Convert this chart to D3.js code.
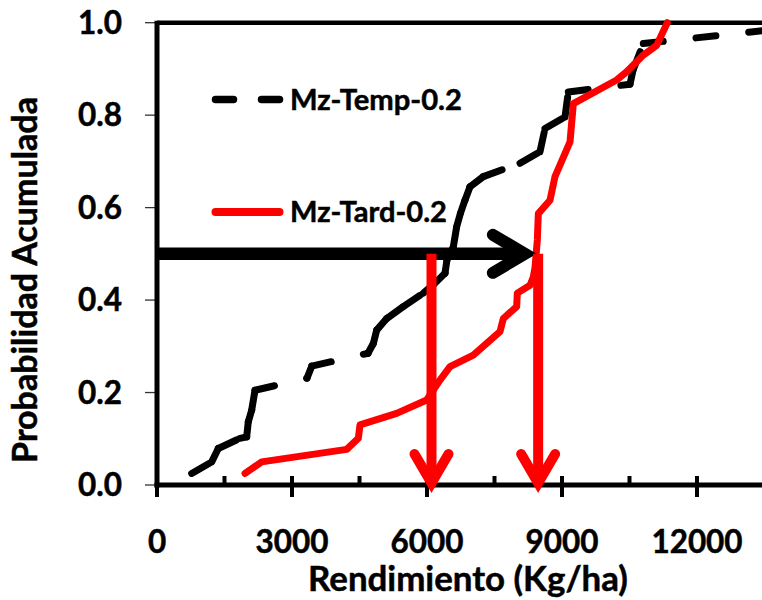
<!DOCTYPE html>
<html>
<head>
<meta charset="utf-8">
<script src="https://cdn.jsdelivr.net/npm/d3@7"></script>
<style>
  html, body { margin: 0; padding: 0; background: #fff; }
  svg { display: block; font-family: Lato, "Open Sans", sans-serif; font-weight: bold; }
  svg text { fill: #000; stroke: #000; stroke-width: 0.5px; paint-order: stroke; }
</style>
</head>
<body>
<svg id="chart" width="762" height="600"></svg>
<script>
// ---- data ----
const xTicks = [0, 3000, 6000, 9000, 12000];
const xMinorTicks = [1500, 4500, 7500, 10500, 13500];
const yTicks = [0, 0.2, 0.4, 0.6, 0.8, 1.0];

const tempName = "Mz-Temp-0.2";
const tempX = [771, 1216, 1362, 1844, 1993, 2029, 2104, 2178, 3333, 3438, 4689, 4807, 4882, 5104, 5473, 5918, 6156, 6400, 6444, 6585, 6660, 6744, 6844, 6956, 7251, 8067, 8511, 8622, 9067, 9140, 10511, 10578, 10807, 13500];
const tempY = [0.025, 0.050, 0.079, 0.101, 0.104, 0.137, 0.162, 0.205, 0.231, 0.257, 0.285, 0.306, 0.335, 0.360, 0.386, 0.415, 0.435, 0.458, 0.487, 0.515, 0.559, 0.588, 0.616, 0.645, 0.667, 0.696, 0.721, 0.771, 0.796, 0.850, 0.867, 0.897, 0.955, 0.983];

const tardName = "Mz-Tard-0.2";
const tardX = [1956, 2326, 4215, 4474, 4511, 5326, 5993, 6289, 6511, 7029, 7622, 7696, 7993, 8007, 8289, 8363, 8400, 8452, 8474, 8733, 8844, 9178, 9252, 10215, 10437, 10807, 11104, 11340];
const tardY = [0.025, 0.050, 0.077, 0.101, 0.130, 0.155, 0.184, 0.227, 0.256, 0.281, 0.332, 0.360, 0.386, 0.415, 0.432, 0.450, 0.470, 0.530, 0.587, 0.616, 0.667, 0.742, 0.825, 0.876, 0.894, 0.930, 0.951, 1.000];

// annotation arrows: horizontal at probability 0.5, vertical drops to 0
const arrowProb = 0.5;
const arrowHX = [0, 8437];
const arrowVX = [6100, 8470];

const xTitle = "Rendimiento (Kg/ha)";
const yTitle = "Probabilidad Acumulada";

// ---- layout ----
const svg = d3.select("#chart");
const x = d3.scaleLinear().domain([0, 13500]).range([157, 764.5]);
const y = d3.scaleLinear().domain([0, 1]).range([485, 22.7]);

function fit(sel, target) {
  const w = sel.node().getComputedTextLength();
  const fs = parseFloat(sel.attr("font-size"));
  if (w > 0) sel.attr("font-size", fs * target / w);
  return sel;
}

// y ticks (outside, thin)
svg.append("g").selectAll("line").data(yTicks).join("line")
  .attr("x1", 145).attr("x2", 157)
  .attr("y1", d => y(d)).attr("y2", d => y(d))
  .attr("stroke", "#333").attr("stroke-width", 1.3);

// x ticks
svg.append("g").selectAll("line").data(xTicks).join("line")
  .attr("x1", d => x(d)).attr("x2", d => x(d))
  .attr("y1", 476).attr("y2", 497)
  .attr("stroke", "#000").attr("stroke-width", 4);
svg.append("g").selectAll("line").data(xMinorTicks).join("line")
  .attr("x1", d => x(d)).attr("x2", d => x(d))
  .attr("y1", 476).attr("y2", 485)
  .attr("stroke", "#000").attr("stroke-width", 4);

// plot frame (top border) and axes
svg.append("line").attr("x1", x(0)).attr("x2", x(13500)).attr("y1", y(1)).attr("y2", y(1))
  .attr("stroke", "#000").attr("stroke-width", 4.5);
svg.append("line").attr("x1", x(0)).attr("x2", x(0)).attr("y1", y(1) - 2).attr("y2", y(0) + 2.5)
  .attr("stroke", "#000").attr("stroke-width", 5);
svg.append("line").attr("x1", x(0) - 2.5).attr("x2", x(13500)).attr("y1", y(0)).attr("y2", y(0))
  .attr("stroke", "#000").attr("stroke-width", 5);

// tick labels
const yl = svg.append("g").selectAll("text").data(yTicks).join("text")
  .attr("x", 122).attr("y", d => y(d)).attr("dy", "0.36em")
  .attr("text-anchor", "end").attr("font-size", 31)
  .text(d => d3.format(".1f")(d));
const xl = svg.append("g").selectAll("text").data(xTicks).join("text")
  .attr("x", d => x(d)).attr("y", 553)
  .attr("text-anchor", "middle").attr("font-size", 31)
  .text(d => d);
// size ticks to match reference width of "3000"
{
  const probe = xl.filter(d => d === 3000);
  const w = probe.node().getComputedTextLength();
  const fs = 31 * 73 / w;
  xl.attr("font-size", fs); yl.attr("font-size", fs);
}

// axis titles
fit(svg.append("text").attr("x", 468).attr("y", 591).attr("text-anchor", "middle")
  .attr("font-size", 28).text(xTitle), 320);
fit(svg.append("text").attr("transform", "translate(36.5,280) rotate(-90)")
  .attr("text-anchor", "middle").attr("font-size", 28).text(yTitle), 366);

// series
const temp = tempX.map((v, i) => ({ x: v, y: tempY[i] }));
const tard = tardX.map((v, i) => ({ x: v, y: tardY[i] }));
const line = d3.line().x(d => x(d.x)).y(d => y(d.y));

// dashed line: dash pattern restarts at every data point (as in the original)
svg.append("g").selectAll("path").data(d3.pairs(temp)).join("path")
  .attr("d", d => line(d))
  .attr("fill", "none").attr("stroke", "#000").attr("stroke-width", 7)
  .attr("stroke-dasharray", "20,33").attr("stroke-linecap", "round");

svg.append("path").datum(tard).attr("d", line)
  .attr("fill", "none").attr("stroke", "#ff0000").attr("stroke-width", 7)
  .attr("stroke-linejoin", "round").attr("stroke-linecap", "round");

// horizontal black arrow
{
  const yy = y(arrowProb);
  const vx = x(arrowHX[1]) - 11.8;
  svg.append("line").attr("x1", x(arrowHX[0])).attr("x2", vx).attr("y1", yy).attr("y2", yy)
    .attr("stroke", "#000").attr("stroke-width", 12.5);
  svg.append("path").attr("d", `M${vx - 32},${yy - 19}L${vx},${yy}L${vx - 32},${yy + 19}`)
    .attr("fill", "none").attr("stroke", "#000").attr("stroke-width", 12)
    .attr("stroke-linecap", "round").attr("stroke-linejoin", "miter");
}
// vertical red arrows
svg.append("g").selectAll("g").data(arrowVX).join("g").each(function (d) {
  const g = d3.select(this);
  const xx = x(d);
  const vy = y(0) - 2;
  g.append("line").attr("x1", xx).attr("x2", xx).attr("y1", y(arrowProb)).attr("y2", vy)
    .attr("stroke", "#ff0000").attr("stroke-width", 10);
  g.append("path").attr("d", `M${xx - 17},${vy - 29}L${xx},${vy}L${xx + 17},${vy - 29}`)
    .attr("fill", "none").attr("stroke", "#ff0000").attr("stroke-width", 10)
    .attr("stroke-linecap", "round").attr("stroke-linejoin", "miter");
});

// legend
svg.append("line").attr("x1", 215.5).attr("x2", 279.5).attr("y1", 99.5).attr("y2", 99.5)
  .attr("stroke", "#000").attr("stroke-width", 7.5)
  .attr("stroke-dasharray", "18,28").attr("stroke-linecap", "round");
svg.append("line").attr("x1", 215.5).attr("x2", 279.5).attr("y1", 212).attr("y2", 212)
  .attr("stroke", "#ff0000").attr("stroke-width", 8).attr("stroke-linecap", "round");
fit(svg.append("text").attr("x", 290).attr("y", 109.5).attr("font-size", 28).text(tempName), 172);
fit(svg.append("text").attr("x", 290).attr("y", 222).attr("font-size", 28).text(tardName), 157);
</script>
</body>
</html>
